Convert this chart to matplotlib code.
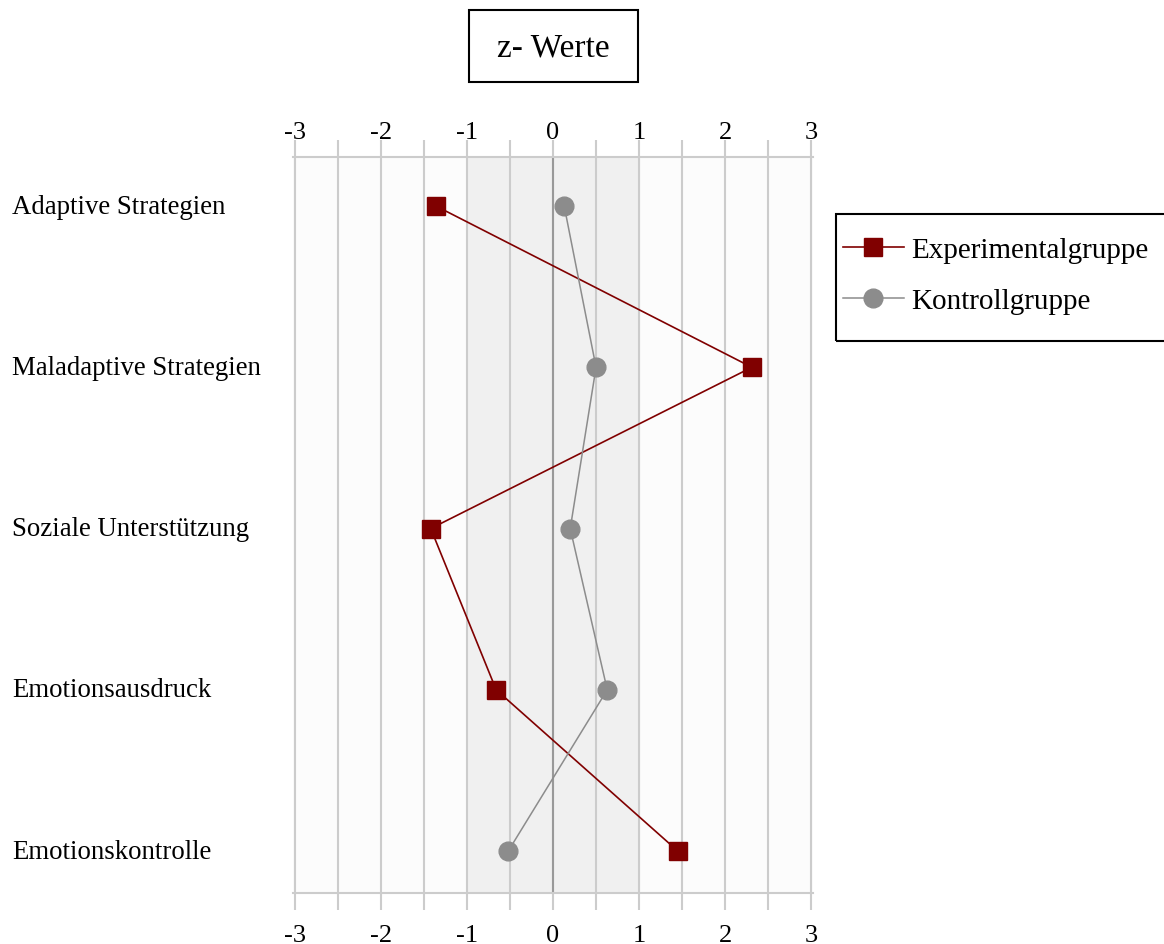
import numpy as np
import matplotlib.pyplot as plt
import matplotlib.transforms as mtransforms
from matplotlib.patches import Rectangle

# Daten
kategorien = ['Adaptive Strategien', 'Maladaptive Strategien', 'Soziale Unterstützung',
              'Emotionsausdruck', 'Emotionskontrolle']
experimental = [-1.36, 2.31, -1.42, -0.66, 1.45]
kontroll = [0.13, 0.50, 0.20, 0.63, -0.52]

plt.rcParams['font.family'] = ['Liberation Serif', 'DejaVu Serif']

W, H = 1164, 945
fig = plt.figure(figsize=(W / 100, H / 100), dpi=100)
ax = fig.add_axes([293 / W, 51 / H, 520 / W, 736 / H])
ax.set_facecolor('#fcfcfc')

# Hintergrund und Gitter
ax.axvspan(-1, 1, color='#f0f0f0', zorder=0)
for xv in np.arange(-3, 3.01, 0.5):
    ax.axvline(xv, color='#cccccc', lw=1.5, zorder=1)
ax.axvline(0, color='#999999', lw=1.5, zorder=1)

y = np.arange(len(kategorien))
ax.plot(experimental, y, color='#800000', lw=1.2, marker='s', markersize=12.5,
        label='Experimentalgruppe', zorder=3)
ax.plot(kontroll, y, color='#8c8c8c', lw=1.1, marker='o', markersize=13.5,
        label='Kontrollgruppe', zorder=3)

ax.set_xlim(-3.02, 3.02)
ax.set_ylim(4.26, -0.304)
ticks = np.arange(-3, 3.01, 0.5)
ax.set_xticks(ticks)
ax.set_xticklabels([str(int(v)) if v == int(v) else '' for v in ticks])
ax.tick_params(axis='x', top=True, labeltop=True, bottom=True, labelbottom=True,
               length=12, width=1.5, color='#cccccc', labelsize=19, pad=10)
# obere Beschriftung naeher an die Achse
shift = mtransforms.ScaledTranslation(0, -17 / 100, fig.dpi_scale_trans)
for t in ax.xaxis.get_major_ticks():
    t.label2.set_transform(t.label2.get_transform() + shift)
ax.set_yticks([])
for s in ['left', 'right']:
    ax.spines[s].set_visible(False)
for s in ['top', 'bottom']:
    ax.spines[s].set_color('#cccccc')
    ax.spines[s].set_linewidth(1.5)

# Kategorien links
trans = mtransforms.blended_transform_factory(fig.transFigure, ax.transData)
for i, k in enumerate(kategorien):
    ax.text(12 / W, i, k, transform=trans, ha='left', va='center', fontsize=19.3)

# Titel im Kasten
fig.patches.append(Rectangle((469 / W, 1 - 83 / H), 169 / W, 72 / H,
                             transform=fig.transFigure, fill=False, edgecolor='black', lw=1.5))
fig.text(553 / W, 1 - 48 / H, 'z- Werte', ha='center', va='center', fontsize=24)

# Legende
fig.patches.append(Rectangle((836 / W, 1 - 342 / H), 340 / W, 127 / H,
                             transform=fig.transFigure, fill=False, edgecolor='black', lw=1.5))
leg = fig.legend(loc='upper left', bbox_to_anchor=(836 / W, 1 - 230 / H),
                 fontsize=21, frameon=False, handlelength=2.07,
                 borderpad=0.25, labelspacing=0.85, handletextpad=0.25, borderaxespad=0)

fig.savefig('out.png', dpi=100)
